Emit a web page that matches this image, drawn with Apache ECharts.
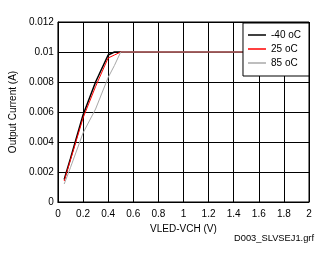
<!DOCTYPE html>
<html><head><meta charset="utf-8">
<script src="https://cdn.jsdelivr.net/npm/echarts@6/dist/echarts.min.js"></script>
<style>html,body{margin:0;padding:0;background:#fff}#c{width:326px;height:255px}</style>
</head><body><div id="c"></div>
<script>
var xVals = [0.05, 0.1, 0.2, 0.3, 0.4, 0.45, 0.5, 0.6, 0.8, 1.0, 1.2, 1.4, 1.6, 1.8, 2.0];
var seriesNames = ['-40 oC', '25 oC', '85 oC'];
var cold = [0.0015, 0.0029, 0.0058, 0.0080, 0.0098, 0.0100, 0.0100, 0.0100, 0.0100, 0.0100, 0.0100, 0.0100, 0.0100, 0.0100, 0.0100];
var room = [0.0014, 0.0028, 0.0056, 0.0077, 0.0096, 0.0098, 0.0100, 0.0100, 0.0100, 0.0100, 0.0100, 0.0100, 0.0100, 0.0100, 0.0100];
var hot  = [0.0012, 0.0023, 0.0046, 0.0062, 0.0083, 0.0091, 0.0100, 0.0100, 0.0100, 0.0100, 0.0100, 0.0100, 0.0100, 0.0100, 0.0100];
var xTitle = 'VLED-VCH (V)';
var yTitle = 'Output Current (A)';
var footnote = 'D003_SLVSEJ1.grf';

function pairs(ys){ return xVals.map(function(x,i){ return [x, ys[i]]; }); }
var font = 'Liberation Sans, Arial, sans-serif';
var lineIcon = 'path://M0,0 L18,0 L18,1 L0,1 Z';
var chart = echarts.init(document.getElementById('c'), null, {renderer:'canvas'});
chart.setOption({
  animation: false,
  backgroundColor: '#fff',
  grid: {left: 55, right: 17, top: 22, bottom: 53, show: true, borderColor: '#000', borderWidth: 1},
  xAxis: {
    type: 'value', min: 0, max: 2, interval: 0.2,
    name: xTitle, nameLocation: 'middle', nameGap: 21,
    nameTextStyle: {color: '#000', fontSize: 10, fontFamily: font},
    axisLine: {show: true, lineStyle: {color: '#000', width: 1}},
    axisTick: {show: false},
    axisLabel: {color: '#000', fontSize: 10, fontFamily: font, margin: 7,
      formatter: function(v){ return String(+v.toFixed(1)); }},
    splitLine: {show: true, lineStyle: {color: '#000', width: 1}}
  },
  yAxis: {
    type: 'value', min: 0, max: 0.012, interval: 0.002,
    name: yTitle, nameLocation: 'middle', nameGap: 35,
    nameTextStyle: {color: '#000', fontSize: 10, fontFamily: font},
    axisLine: {show: true, lineStyle: {color: '#000', width: 1}},
    axisTick: {show: false},
    axisLabel: {color: '#000', fontSize: 10, fontFamily: font, margin: 4,
      formatter: function(v){ return String(+v.toFixed(3)); }},
    splitLine: {show: true, lineStyle: {color: '#000', width: 1}}
  },
  legend: {
    orient: 'vertical', right: 17, top: 23,
    backgroundColor: '#fff', borderColor: '#000', borderWidth: 1,
    padding: [6, 8, 7, 5], itemGap: 2, itemWidth: 18, itemHeight: 1.5,
    icon: 'rect',
    textStyle: {color: '#000', fontSize: 10, fontFamily: font, lineHeight: 12},
    data: seriesNames
  },
  graphic: [{type: 'text', right: 12, top: 234,
    style: {text: footnote, fill: '#000', fontSize: 9.3, fontFamily: font}}],
  series: [
    {name: seriesNames[0], type: 'line', data: pairs(cold), symbol: 'none', lineStyle: {color: '#000', width: 1.5}, itemStyle: {color: '#000'}},
    {name: seriesNames[1], type: 'line', data: pairs(room), symbol: 'none', lineStyle: {color: '#ff0000', width: 1}, itemStyle: {color: '#ff0000'}},
    {name: seriesNames[2], type: 'line', data: pairs(hot), symbol: 'none', lineStyle: {color: '#a8a8a8', width: 1}, itemStyle: {color: '#a8a8a8'}}
  ]
});
</script></body></html>
